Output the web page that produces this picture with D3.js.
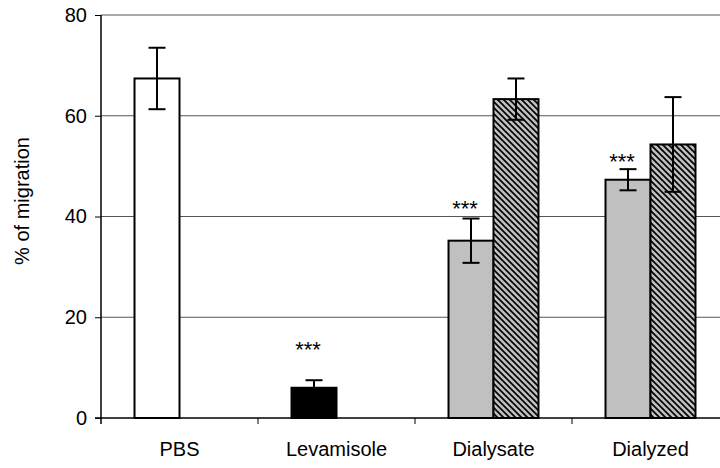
<!DOCTYPE html>
<html>
<head>
<meta charset="utf-8">
<script src="https://cdnjs.cloudflare.com/ajax/libs/d3/7.8.5/d3.min.js"></script>
<style>
  body { margin: 0; background: #fff; }
  svg { display: block; }
  text { font-family: "Liberation Sans", Arial, sans-serif; fill: #000; }
</style>
</head>
<body>
<svg id="svg1" width="720" height="468"></svg>
<script>
var categories = ["PBS", "Levamisole", "Dialysate", "Dialyzed"];
var yTicks = [0, 20, 40, 60, 80];

// first bar of each group (control / fraction)
var firstMeans = [67.4, 6.0, 35.2, 47.3];
var firstErr = [6.1, 1.5, 4.4, 2.1];

// second bar (hatched), only for the two dialysis groups
var secondMeans = [null, null, 63.3, 54.3];
var secondErr = [null, null, 4.1, 9.4];

// significance marks and the level (in %) where they sit
var stars = ["", "***", "***", "***"];
var starLevel = [null, 14.5, 42.5, 51.9];

var firstFill = { "PBS": "#ffffff", "Levamisole": "#000000", "Dialysate": "#c0c0c0", "Dialyzed": "#c0c0c0" };

var svg = d3.select("#svg1"),
    margin = { top: 15, right: -9, bottom: 50, left: 101 },
    width = +svg.attr("width") - margin.left - margin.right,
    height = +svg.attr("height") - margin.top - margin.bottom,
    g = svg.append("g").attr("transform", "translate(" + margin.left + "," + margin.top + ")");

var defs = svg.append("defs");
var pat = defs.append("pattern")
    .attr("id", "hatch")
    .attr("patternUnits", "userSpaceOnUse")
    .attr("width", 6)
    .attr("height", 6);
pat.append("rect").attr("width", 6).attr("height", 6).attr("fill", "#c0c0c0");
pat.append("path")
    .attr("d", "M0,0L6,6M-3,3L3,9M3,-3L9,3")
    .attr("stroke", "#000")
    .attr("stroke-width", 1.7);

var x0 = d3.scaleBand()
    .domain(categories)
    .range([0, width])
    .padding(0);

var x1 = d3.scaleBand()
    .domain(["first", "second"])
    .range([0, x0.bandwidth()])
    .paddingInner(0)
    .paddingOuter(0.745);

var y = d3.scaleLinear()
    .domain([0, 80])
    .range([height, 0]);

// gridlines
g.append("g")
    .selectAll("line")
    .data(yTicks.slice(1))
    .enter().append("line")
    .attr("x1", 0)
    .attr("x2", width)
    .attr("y1", function (d) { return y(d); })
    .attr("y2", function (d) { return y(d); })
    .attr("stroke", "#555")
    .attr("stroke-width", 1);

var rows = categories.map(function (c, i) {
    return { cat: c, i: i };
});

var bars = [];
rows.forEach(function (r) {
    bars.push({ cat: r.cat, s: "first", v: firstMeans[r.i], e: firstErr[r.i], fill: firstFill[r.cat] });
    if (secondMeans[r.i] != null) {
        bars.push({ cat: r.cat, s: "second", v: secondMeans[r.i], e: secondErr[r.i], fill: "url(#hatch)" });
    }
});

g.selectAll(".bar")
    .data(bars)
    .enter().append("rect")
    .attr("class", "bar")
    .attr("x", function (d) { return x0(d.cat) + x1(d.s); })
    .attr("width", x1.bandwidth())
    .attr("y", function (d) { return y(d.v); })
    .attr("height", function (d) { return height - y(d.v); })
    .attr("fill", function (d) { return d.fill; })
    .attr("stroke", "#000")
    .attr("stroke-width", 2);

// error bars
var eb = g.selectAll(".err")
    .data(bars)
    .enter().append("g")
    .attr("class", "err")
    .attr("transform", function (d) {
        return "translate(" + (x0(d.cat) + x1(d.s) + x1.bandwidth() / 2) + ",0)";
    })
    .attr("stroke", "#000")
    .attr("stroke-width", 2);

eb.append("line")
    .attr("y1", function (d) { return y(d.v - d.e); })
    .attr("y2", function (d) { return y(d.v + d.e); });
eb.append("line")
    .attr("x1", -8.5).attr("x2", 8.5)
    .attr("y1", function (d) { return y(d.v + d.e); })
    .attr("y2", function (d) { return y(d.v + d.e); });
eb.append("line")
    .attr("x1", -8.5).attr("x2", 8.5)
    .attr("y1", function (d) { return y(d.v - d.e); })
    .attr("y2", function (d) { return y(d.v - d.e); });

// y axis
var yAxis = g.append("g")
    .call(d3.axisLeft(y).tickValues(yTicks).tickSize(6).tickSizeOuter(0).tickPadding(8));
yAxis.select(".domain").attr("stroke", "#000").attr("stroke-width", 1.5)
    .attr("d", "M0,0V" + (height + 6));
yAxis.selectAll("text").style("font-size", "20px").attr("font-family", null);
yAxis.selectAll(".tick line").attr("stroke", "#000");

// x axis
var xAxis = g.append("g")
    .attr("transform", "translate(0," + height + ")")
    .call(d3.axisBottom(x0).tickSize(0).tickPadding(24));
xAxis.select(".domain").attr("stroke", "#000").attr("stroke-width", 1.5)
    .attr("d", "M-6,0H" + width);
xAxis.selectAll("text").style("font-size", "20px").attr("font-family", null);

g.append("g")
    .selectAll("line")
    .data(categories.slice(1))
    .enter().append("line")
    .attr("x1", function (d) { return x0(d); })
    .attr("x2", function (d) { return x0(d); })
    .attr("y1", height)
    .attr("y2", height + 6)
    .attr("stroke", "#000");

// significance stars
g.selectAll(".star")
    .data(rows.filter(function (r) { return stars[r.i] !== ""; }))
    .enter().append("text")
    .attr("class", "star")
    .attr("x", function (r) { return x0(r.cat) + x1("first") + x1.bandwidth() / 2 - 6; })
    .attr("y", function (r) { return y(starLevel[r.i]); })
    .attr("dy", "0.57em")
    .attr("text-anchor", "middle")
    .style("font-size", "22px")
    .text(function (r) { return stars[r.i]; });

// y axis label
svg.append("text")
    .attr("transform", "rotate(-90)")
    .attr("x", -201)
    .attr("y", 29)
    .attr("text-anchor", "middle")
    .style("font-size", "20px")
    .text("% of migration");
</script>
</body>
</html>
